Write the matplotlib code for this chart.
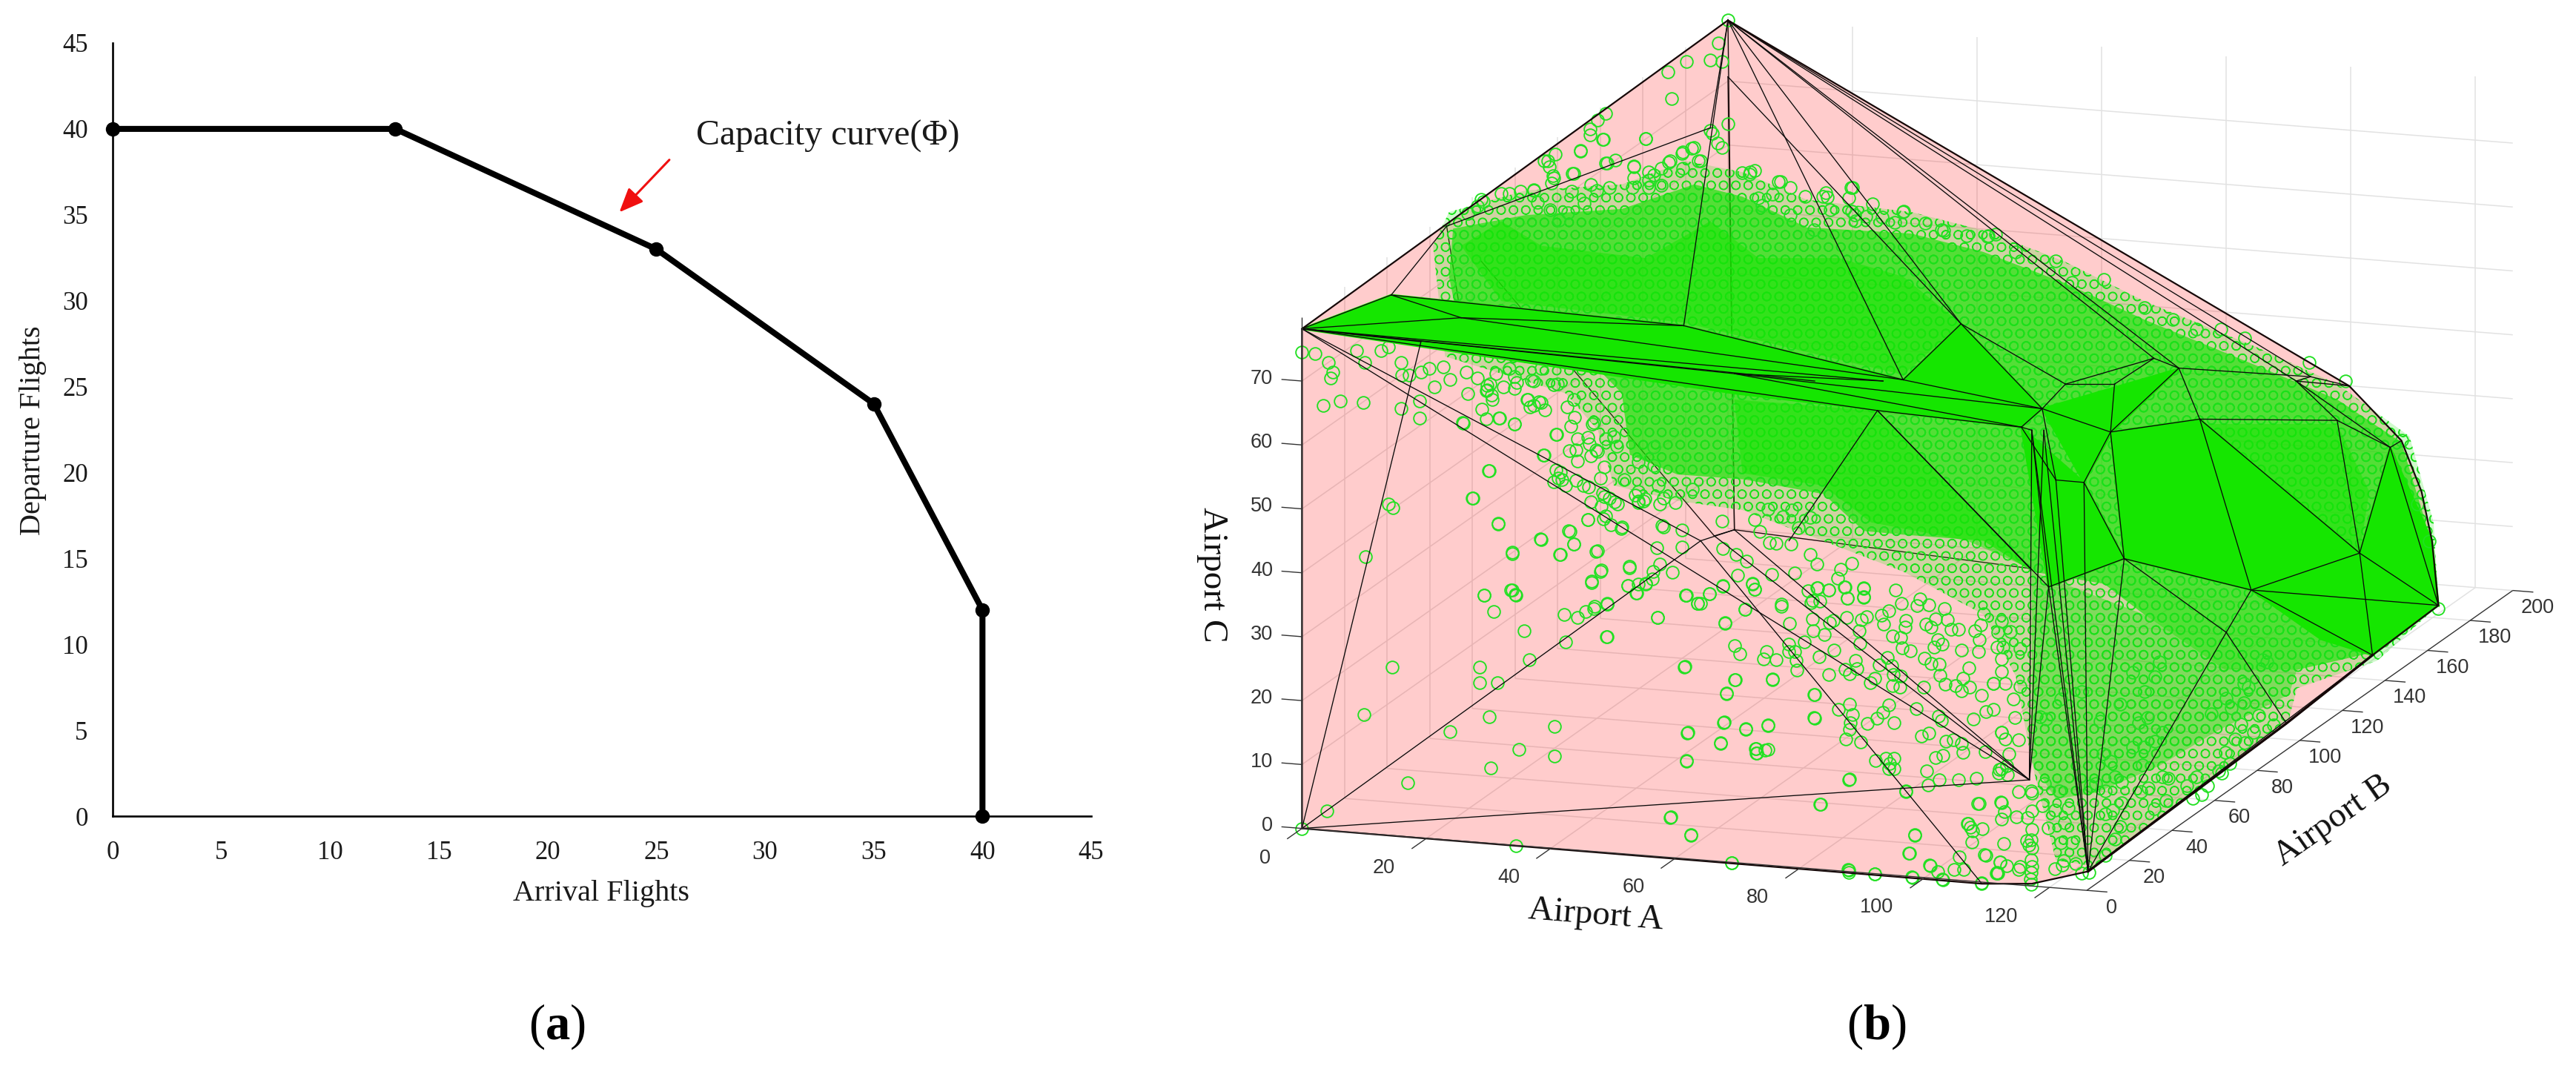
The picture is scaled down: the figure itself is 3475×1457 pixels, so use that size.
import matplotlib
matplotlib.use("Agg")
import matplotlib.pyplot as plt
from matplotlib.patches import Polygon
import numpy as np

W, H = 3475, 1457
SERIF = ["Liberation Serif", "DejaVu Serif"]
SANS = ["Liberation Sans", "DejaVu Sans"]
plt.rcParams["mathtext.fontset"] = "custom"
plt.rcParams["mathtext.bf"] = "Liberation Serif:bold"
plt.rcParams["mathtext.rm"] = "Liberation Serif"
plt.rcParams["hatch.linewidth"] = 1.0

# ---------- panel (a) data ----------
arrival = [0, 13, 25, 35, 40, 40]
departure = [40, 40, 33, 24, 12, 0]
ticks_a = list(range(0, 50, 5))

# ---------- panel (b) frame values ----------
A_ticks = [0, 20, 40, 60, 80, 100, 120]
B_ticks = [0, 20, 40, 60, 80, 100, 120, 140, 160, 180, 200]
C_ticks = [0, 10, 20, 30, 40, 50, 60, 70]
A_max, B_max, C_max = 126, 200, 80

# hull vertices, read in the view plane of the 3-D picture
hull_u = [582, 52, 52, 898, 960, 1030, 1466, 1420, 1355, 1307, 1384, 1277, 1233, 1368, 1075, 1025, 990, 1058,
          1169, 1340, 1143, 1063, 1002, 973, 947, 1112, 957, 981, 1202, 1406, 1289, 872, 768, 800, 527, 250,
          163, 232, 582, 560, 565, 958, 590, 1445, 1458, 548, 200, 590, 960, 975, 275, 690, 775, 658]
hull_v = [33, 535, 1348, 1438, 1438, 1418, 985, 717, 628, 613, 1066, 1177, 960, 900, 909, 785, 781, 703,
          682, 684, 599, 625, 625, 665, 695, 583, 1269, 955, 1029, 728, 620, 527, 668, 618, 530, 517,
          480, 368, 125, 208, 872, 925, 608, 800, 880, 880, 556, 862, 700, 700, 425, 620, 620, 880]
outline = [0, 1, 2, 3, 4, 5, 11, 10, 6, 44, 43, 7, 8]
edges_back = [(0, 47), (47, 41), (50, 40), (38, 47), (37, 35)]
edges_front = [(0, 9), (0, 30), (0, 25), (0, 20), (0, 31), (0, 33), (0, 34), (38, 31), (39, 0), (39, 37), (37, 36),
               (36, 1), (36, 35), (35, 1), (36, 34), (35, 34), (34, 33), (35, 33), (1, 42), (1, 51),
               (1, 32), (1, 52), (42, 24), (42, 23), (42, 52), (32, 24), (33, 23), (31, 33), (31, 23), (31, 22),
               (22, 23), (22, 21), (21, 17), (21, 25), (22, 25), (25, 20), (20, 18), (20, 17), (20, 9), (9, 8),
               (9, 30), (30, 8), (30, 19), (30, 29), (29, 7), (29, 13), (29, 6), (29, 19), (19, 18), (19, 13),
               (18, 17), (18, 12), (18, 13), (17, 23), (17, 15), (17, 14), (15, 16), (15, 14), (16, 23), (16, 24),
               (14, 12), (14, 5), (14, 28), (12, 13), (12, 6), (12, 28), (12, 10), (13, 6), (13, 10), (28, 11),
               (28, 5), (23, 24), (24, 48), (48, 26), (48, 5), (49, 5), (49, 26), (16, 5), (15, 5), (27, 5),
               (27, 26), (27, 48), (27, 14), (11, 5), (10, 5), (32, 27), (32, 41), (32, 53), (1, 45), (1, 26),
               (2, 45), (2, 46), (46, 1), (2, 26), (45, 3), (40, 26), (47, 26), (45, 47), (40, 47)]

# the parts of the cloud where circles merge into a solid
solid_facets = [
    [(973, 665), (1143, 600), (1060, 703), (1025, 785)],
    [(1058, 703), (1169, 682), (1233, 960), (1075, 909)],
    [(1169, 682), (1368, 900), (1233, 960)],
    [(1233, 960), (1368, 900), (1466, 985), (1384, 1066), (1320, 1040)],
    [(1368, 900), (1406, 728), (1458, 880), (1466, 985)],
    [(800, 618), (872, 527), (973, 665)],
    [(52, 535), (163, 480), (527, 530), (800, 618), (973, 665), (947, 695), (590, 640)],
    [(947, 695), (1025, 785), (1075, 909), (981, 955)],
]
dense_patches = [
    [(250, 400), (300, 360), (350, 400), (480, 420), (560, 360), (620, 420), (720, 420), (800, 450), (872, 527),
     (800, 610), (527, 525), (300, 490)],
    [(590, 650), (768, 668), (958, 925), (880, 880), (760, 850), (700, 790), (600, 770)],
    [(1170, 690), (1340, 690), (1380, 800), (1368, 900)],
]
band_u = [240, 330, 450, 540, 600, 680, 810, 900, 1000, 1100, 1240, 1340, 1420, 1450, 1466, 1390, 1290, 1200, 1100,
          1050, 960, 900, 800, 751, 701, 602, 519, 460, 450, 420, 250, 235]
band_v = [372, 350, 340, 300, 320, 370, 380, 410, 460, 520, 595, 650, 720, 850, 985, 1060, 1090, 1090, 1000,
          950, 930, 880, 870, 864, 804, 780, 772, 740, 640, 600, 550, 450]
lower_u = [960, 1100, 1200, 1290, 1280, 1190, 1119, 1040, 990, 960]
lower_v = [930, 1000, 1090, 1090, 1130, 1190, 1246, 1290, 1300, 1240]
fringe_u = [215, 235, 330, 450, 530, 600, 680, 810, 900, 1000, 1100, 1240, 1340, 1430, 1460, 1466, 1390, 1290, 1280,
            1160, 1040, 990, 960, 940, 900, 800, 700, 600, 520, 440, 420, 380, 230]
fringe_v = [400, 345, 310, 300, 262, 280, 325, 345, 375, 425, 490, 565, 625, 710, 850, 985, 1075, 1120, 1170,
            1290, 1410, 1400, 1240, 1100, 1000, 930, 880, 830, 815, 790, 700, 640, 580]

# individually readable circles of the cloud, in the view plane
cloud_u = [52, 83, 184, 287, 322, 366, 366, 285, 236, 129, 164, 273, 273, 295, 335, 380, 431, 378, 395, 405, 415, 432,
           328, 291, 279, 312, 318, 412, 424, 459, 470, 488, 530, 548, 494, 578, 603, 528, 591, 580, 637, 689, 689,
           577, 604, 632, 532, 573, 616, 618, 632, 530, 510, 536, 318, 587, 697, 733, 803, 732, 765, 812, 849, 833,
           808, 814, 893, 897, 903, 880, 886, 917, 945, 954, 1000, 1015,
           131, 160, 165, 264, 285, 296, 314, 349, 373, 390, 384, 418, 408, 470, 430, 450, 500, 525, 252, 198, 175,
           128, 100, 78, 198, 217, 236, 228, 200, 176, 282, 286, 297, 316, 332, 350, 340, 368, 352, 385, 415, 408,
           420, 440, 368, 375, 402, 428, 445, 470, 477,
           52, 68, 85, 90, 88, 120, 130, 150, 160, 175, 185, 210, 258, 270, 310, 340, 370, 390, 350,
           582, 570, 575, 560, 530, 507, 512, 582, 560, 480, 430, 420, 410, 426, 398, 432, 358, 390, 365, 340, 300,
           275, 270, 465, 490, 510, 525, 540, 545, 575, 610, 645, 700, 735, 740, 800, 850, 905, 940, 990, 1010, 1050,
           1100, 1135, 1165, 1195, 1225, 1305, 1350, 1420, 1440, 1455, 1466,
           960, 960, 960, 960, 960, 958]
cloud_v = [1348, 1320, 1274, 1249, 1220, 1230, 1182, 1166, 1190, 1163, 1085, 1085, 1111, 1111, 1074, 1045, 1036, 1000,
           1005, 995, 990, 983, 1027, 995, 968, 960, 968, 946, 928, 922, 950, 942, 968, 982, 1005, 1013, 992, 1085,
           1106, 1128, 1105, 1130, 1167, 1175, 1186, 1180, 1192, 1208, 1218, 1226, 1219, 1238, 1330, 1358, 1376, 1404,
           1309, 1268, 1288, 1416, 1422, 1428, 1430, 1408, 1388, 1358, 1308, 1436, 1392, 1340, 1352, 1420, 1410, 1368,
           1400, 1405,
           906, 820, 826, 810, 766, 852, 899, 877, 902, 885, 864, 897, 845, 815, 840, 858, 855, 890, 688, 680, 664,
           655, 652, 660, 652, 630, 618, 597, 605, 610, 635, 625, 680, 690, 650, 655, 660, 707, 740, 733, 688, 712,
           735, 710, 765, 780, 790, 808, 820, 800, 815,
           573, 575, 590, 605, 615, 570, 590, 570, 565, 590, 610, 600, 640, 615, 600, 620, 625, 650, 600,
           33, 70, 100, 98, 100, 117, 160, 202, 212, 225, 185, 195, 210, 227, 245, 265, 262, 282, 290, 310, 315,
           325, 335, 270, 285, 262, 250, 240, 262, 240, 280, 295, 320, 305, 350, 345, 375, 385, 410, 425, 460, 455,
           500, 520, 535, 535, 550, 590, 620, 716, 820, 880, 990,
           1290, 1320, 1350, 1380, 1410, 1430]

# more circles read on four enlarged crops of the picture (crop pixels, then crop frame)
crop1 = [(50,105),(130,30),(160,60),(195,25),(240,160),(50,238),(348,70),(393,103),(438,63),(488,33),(570,127),(495,182),
         (708,115),(600,25),(608,45),(738,183),(533,272),(552,305),(652,297),(641,327),(688,331),(735,266),(735,296),
         (758,298),(765,333),(766,371),(795,258),(850,318),(908,292),(828,213),(870,227),(890,180),(905,170),(825,165),
         (820,100),(855,92),(845,40),(888,47),(947,37),(958,82),(1018,42),(1018,78),(1140,47),(1163,103),(1115,133),
         (1085,150),(1095,185),(1030,155),(1010,168),(955,160),(1003,212),(1005,265),(1178,170),(1175,198),(1128,235),
         (1160,240),(1165,283),(1195,295),(1250,325),(1275,345),(1305,347),(1315,268),(1285,278),(1298,250),(1255,185),
         (1275,198),(1290,165),(1335,167),(1325,122),(1265,108),(1233,85),(1222,110),(1350,207),(1378,208),(1390,290),
         (1440,212),(1462,190),(1473,145),(1455,250),(1453,298),(1417,362),(1307,392),(1327,430),(1365,435),(1393,405),
         (1388,457),(1420,440),(1465,475),(1510,425),(1247,440),(345,357),(533,410),(674,410),(502,467),(888,390),
         (950,368),(965,388),(995,365),(988,332),(1043,423),(1060,405),(1077,350),(1110,320),(1125,355),(1130,390),
         (1160,395),(1128,435),(1155,442),(833,472),(833,566),(965,510),(923,531),(977,553),(970,585),(967,612),
         (1033,588),(1070,567),(1092,543),(1113,513),(1133,585),(1218,528),(1303,557),(1313,575),(1433,570),(1480,540),
         (1510,530),(490,586),(573,611),(658,597),(353,627),(480,668),(614,690),(614,708),(647,696),(350,741),(952,652),
         (1008,662),(1237,640),(1265,627),(1330,660),(1358,655),(1390,668),(1393,705),(1318,718),(1290,725),(1477,702),
         (1540,625),(1065,737),(1103,728),(1135,730),(1117,750),(1113,770),(1135,772),(1258,781),(963,816),(1262,836),
         (1306,817),(1378,815),(1445,810),(1178,860),(854,915),(290,967),(367,1040),(1212,1040),(1190,1113),(1455,912),
         (1538,905),(1413,993),(1423,1008),(1468,1013),(1427,1068),(1475,1118),(1380,1128),(1272,1163),(1300,1188),
         (1360,1178),(1397,1178),(522,1152),(960,1180),(963,1190),(1062,1198),(1200,1210),(1318,1220),(1465,1235),
         (1525,1195),(1535,1150),(1540,770),(1560,760),(1530,790)]
crop2 = [(50,5),(162,12),(232,25),(297,40),(128,60),(125,80),(145,100),(148,118),(190,67),(240,47),(232,72),(380,57),
         (282,117),(292,148),(325,125),(348,160),(108,155),(125,195),(175,192),(233,216),(40,212),(393,258),(343,342),
         (135,405),(405,410),(398,435),(380,450),(425,465),(465,445),(512,470),(572,390),(556,435),(648,440),(75,517),
         (170,620),(333,683),(225,740),(405,745),(455,703),(441,650),(510,603),(565,495),(590,515),(610,530),(520,530),
         (560,550),(568,600),(595,625),(635,640),(545,730),(665,797),(558,813),(523,857),(118,910),(225,888),(235,907),
         (662,870),(728,862),(695,900),(757,812),(780,783),(828,815),(770,718),(795,632),(865,645),(880,910),(970,903),
         (925,942),(1020,870),(582,942),(535,955),(1075,828),(1130,860),(1140,885),(1240,945),(1290,820),(1375,880),
         (1420,888),(1480,875),(1452,840),(1465,803),(1505,780),(1375,783),(1350,745),(1490,922),(1550,880),(1550,915),
         (1340,890),(1358,930),(430,148),(458,190),(445,225),(470,277),(515,297),(465,320),(470,365),(520,345),(540,320),
         (525,215),(620,305),(578,275),(700,370),(758,385),(758,308),(690,505),(700,535),(725,520),(775,465),(795,515),
         (780,540),(840,535),(905,480),(1190,560),(1245,590),(1280,565),(1305,635),(1350,595),(1140,602),(1160,650),
         (1195,695),(1220,700),(1278,703),(1020,720),(1070,745),(1110,770),(1205,825),(1015,610)]
crop3 = [(557,50),(440,53),(403,35),(375,102),(305,113),(275,140),(288,165),(353,193),(445,150),(472,138),(525,165),
         (525,210),(565,185),(565,220),(600,170),(622,148),(660,170),(660,105),(685,90),(710,140),(742,30),(757,70),
         (300,200),(295,230),(245,258),(208,265),(178,273),(105,305),(62,355),(405,238),(455,248),(350,265),(860,180),
         (845,195),(825,190),(932,225),(960,250),(910,275),(1058,270),(1062,288),(1132,250),(1122,292),(1188,315),
         (1130,345),(1275,345),(1335,392),(1380,420),(1450,445),(1510,445),(1530,438),(1250,390),(1215,370),(1170,365),
         (1140,385),(1070,340),(1025,420),(1000,285),(960,360),(870,290),(880,320),(600,240),(565,250),(520,250),
         (420,260),(385,312),(340,350),(290,340),(255,310),(315,380)]
crop4 = [(45,158),(97,155),(135,225),(42,218),(65,218),(60,115),(60,268),(60,318),(27,365),(75,365),(135,378),(107,428),
         (115,505),(60,565),(75,592),(130,595),(90,650),(50,715),(85,735),(130,805),(60,850),(73,885),(120,905),(60,915),
         (70,1015),(55,1090),(80,1105),(40,1135),(130,1120),(275,1115),(305,1100),(385,1135),(415,1130),(480,1063),
         (520,995),(540,945),(545,850),(510,880),(480,895),(725,840),(678,872),(630,695),(635,625),(590,625),(680,600),
         (710,565),(650,505),(615,525),(835,830),(870,815),(895,780),(950,730),(985,690),(1045,605),(1005,590),(965,645),
         (1030,530),(1080,565),(1160,535),(1100,495),(910,490),(970,425),(1040,445),(990,465),(1040,365),(1115,270),
         (1135,280),(1060,380),(940,720),(850,745),(810,780),(735,750),(710,745),(655,790),(625,805),(545,765),(520,745),
         (235,770),(295,800),(225,860),(275,880),(250,950),(300,1010),(345,1010),(315,930),(180,1180),(180,1130),
         (180,1080),(170,1020),(180,1000),(165,910),(180,800),(480,800),(440,770),(420,780),(500,680),(470,650),(330,870),
         (640,400),(590,320),(700,280),(680,340),(540,450),(460,520),(300,430),(385,400),(240,510),(215,500)]
crop_frames = [(crop1, 2150, 780, 2.8, 3.0), (crop2, 1960, 500, 2.8, 3.0),
               (crop3, 1950, 170, 1568 / 760, 3.0), (crop4, 2680, 800, 3.0, 3.0)]


# ---------- drawing ----------
def px_axes(fig, x0, y0, x1, y1):
    return fig.add_axes([x0 / W, 1 - y1 / H, (x1 - x0) / W, (y1 - y0) / H])


fig = plt.figure(figsize=(W / 100, H / 100), dpi=100, facecolor="white")

# panel (a)
ax = px_axes(fig, 152, 58, 1472, 1101)
ax.set_xlim(0, 45)
ax.set_ylim(0, 45)
ax.plot(arrival, departure, color="black", lw=5.8, marker="o", ms=13, clip_on=False, zorder=5,
        solid_joinstyle="miter")
for s in ("top", "right"):
    ax.spines[s].set_visible(False)
for s in ("left", "bottom"):
    ax.spines[s].set_linewidth(1.9)
ax.set_xticks(ticks_a)
ax.set_yticks(ticks_a)
ax.tick_params(length=0, labelsize=25, pad=24)
for t in ax.get_xticklabels() + ax.get_yticklabels():
    t.set_fontfamily(SERIF)
    t.set_color("#1a1a1a")
ax.set_xlabel("Arrival Flights", fontsize=29, family=SERIF, color="#1a1a1a")
ax.xaxis.set_label_coords((811 - 152) / 1320, -(1206 - 1101) / 1043)
ax.xaxis.label.set_verticalalignment("center")
ax.set_ylabel("Departure Flights", fontsize=29, family=SERIF, color="#1a1a1a")
ax.yaxis.set_label_coords(-(152 - 45) / 1320, (1101 - 581) / 1043)
ax.yaxis.label.set_verticalalignment("center")
ax.text(32.9, 39.55, "Capacity curve(Φ)", fontsize=34.5, family=SERIF, ha="center", va="center", color="#1a1a1a")
ax.annotate("", xy=(23.3, 35.15), xytext=(25.6, 38.2),
            arrowprops=dict(arrowstyle="-|>,head_length=0.9,head_width=0.38", color="#f01010", lw=2.2,
                            shrinkA=0, shrinkB=0, mutation_scale=22))

# panel (b): a flat axes that carries the view plane of the orthographic picture
x0b, x1b = 1590, 3475
sx, sy = 1568 / 1700, 1568 / 1300
bx = px_axes(fig, x0b, 0, x1b, H)
bx.set_xlim((x0b - 1700) * sx, (x1b - 1700) * sx)
bx.set_ylim(H * sy, 0)
bx.axis("off")


def proj(a, b, c):
    return 52 + 7.75 * a + 2.65 * b, 1348 + 0.80 * a - 2.44 * b - 10.4 * c


def seg(p, q, **kw):
    u0, v0 = proj(*p)
    u1, v1 = proj(*q)
    bx.plot([u0, u1], [v0, v1], solid_capstyle="butt", clip_on=False, **kw)


grid = dict(color="#e2e2e2", lw=1.1, zorder=1)
for a in A_ticks[1:]:
    seg((a, 200, 0), (a, 200, C_max), **grid)
    seg((a, 0, 0), (a, 200, 0), **grid)
for b in B_ticks[1:]:
    seg((0, b, 0), (0, b, C_max), **grid)
    seg((0, b, 0), (A_max, b, 0), **grid)
for c in C_ticks[1:]:
    seg((0, 0, c), (0, 200, c), **grid)
    seg((0, 200, c), (A_max, 200, c), **grid)

hull_u = np.array(hull_u)
hull_v = np.array(hull_v)
bx.add_patch(Polygon(np.c_[hull_u[outline], hull_v[outline]], closed=True, facecolor=(1, 0, 0, 0.2),
                     edgecolor="none", zorder=2))
for i, j in edges_back:
    bx.plot(hull_u[[i, j]], hull_v[[i, j]], color="#201010", lw=1.0, zorder=3)

GREEN = "#15e600"
RING = (0.1, 0.88, 0.1, 1)
bx.add_patch(Polygon(np.c_[fringe_u, fringe_v], closed=True, facecolor=(0.08, 0.9, 0, 0.2),
                     edgecolor=RING, hatch="O", lw=0, zorder=3.5))
bx.add_patch(Polygon(np.c_[lower_u, lower_v], closed=True, facecolor=(0.08, 0.9, 0, 0.42),
                     edgecolor=RING, hatch="O", lw=0, zorder=4))
bx.add_patch(Polygon(np.c_[band_u, band_v], closed=True, facecolor=(0.08, 0.9, 0, 0.66),
                     edgecolor=RING, hatch="O", lw=0, zorder=4))
for patch in dense_patches:
    bx.add_patch(Polygon(patch, closed=True, facecolor=(0.08, 0.9, 0, 0.5), edgecolor="none", zorder=4.5))
for facet in solid_facets:
    bx.add_patch(Polygon(facet, closed=True, facecolor=GREEN, edgecolor=GREEN, lw=2, zorder=5))

all_u = list(cloud_u)
all_v = list(cloud_v)
for pts, ox, oy, fx, fy in crop_frames:
    for zx, zy in pts:
        all_u.append((ox + zx / fx - 1700) * sx)
        all_v.append((oy + zy / fy) * sy)
bx.plot(all_u, all_v, ls="none", marker="o", ms=12, mfc="none", mec="#22e022", mew=1.35, zorder=6, clip_on=False)

for i, j in edges_front:
    bx.plot(hull_u[[i, j]], hull_v[[i, j]], color="#0a0a0a", lw=0.95, zorder=7)
loop = outline + [outline[0]]
bx.plot(hull_u[loop], hull_v[loop], color="#150808", lw=1.6, zorder=7)
bx.plot(hull_u[[5, 11, 10]], hull_v[[5, 11, 10]], color="#150808", lw=2.4, zorder=7)

# box edges, ticks and tick labels
axis_style = dict(color="#333333", lw=1.0, zorder=8)
seg((0, 0, 0), (0, 0, C_max), **axis_style)
seg((0, 0, 0), (A_max, 0, 0), **axis_style)
seg((A_max, 0, 0), (A_max, 200, 0), **axis_style)
tk = dict(family=SANS, fontsize=19.5, color="#333333", zorder=9, clip_on=False)
for a in A_ticks:
    seg((a, 0, 0), (a, -7, 0), **axis_style)
    u, v = proj(a, -14.7, -1.2)
    bx.text(u, v, str(a), ha="right", va="center", **tk)
for b in B_ticks:
    seg((A_max, b, 0), (A_max + 3.3, b, 0), **axis_style)
    u, v = proj(A_max + 4, b, -2.4)
    bx.text(u, v, str(b), ha="center", va="center", **tk)
for c in C_ticks:
    seg((0, 0, c), (-3.3, 0, c), **axis_style)
    u, v = proj(-4.7, 0, c)
    bx.text(u, v, str(c), ha="right", va="center", **tk)

lab = dict(family=SERIF, fontsize=34, color="#111111", ha="center", va="center", rotation_mode="anchor", zorder=9)
bx.text(418, 1490, "Airport A", rotation=-4.5, **lab)
bx.text(1335, 1335, "Airport B", rotation=35, **lab)
bx.text((1635 - 1700) * sx, 775 * sy, "Airport C", rotation=-90, **lab)

fig.text(751 / W, 1 - 1385 / H, r"($\mathbf{a}$)", fontsize=48, family=SERIF, ha="center", va="center")
fig.text(2531 / W, 1 - 1385 / H, r"($\mathbf{b}$)", fontsize=48, family=SERIF, ha="center", va="center")

fig.savefig("out.png", dpi=100, facecolor="white")
